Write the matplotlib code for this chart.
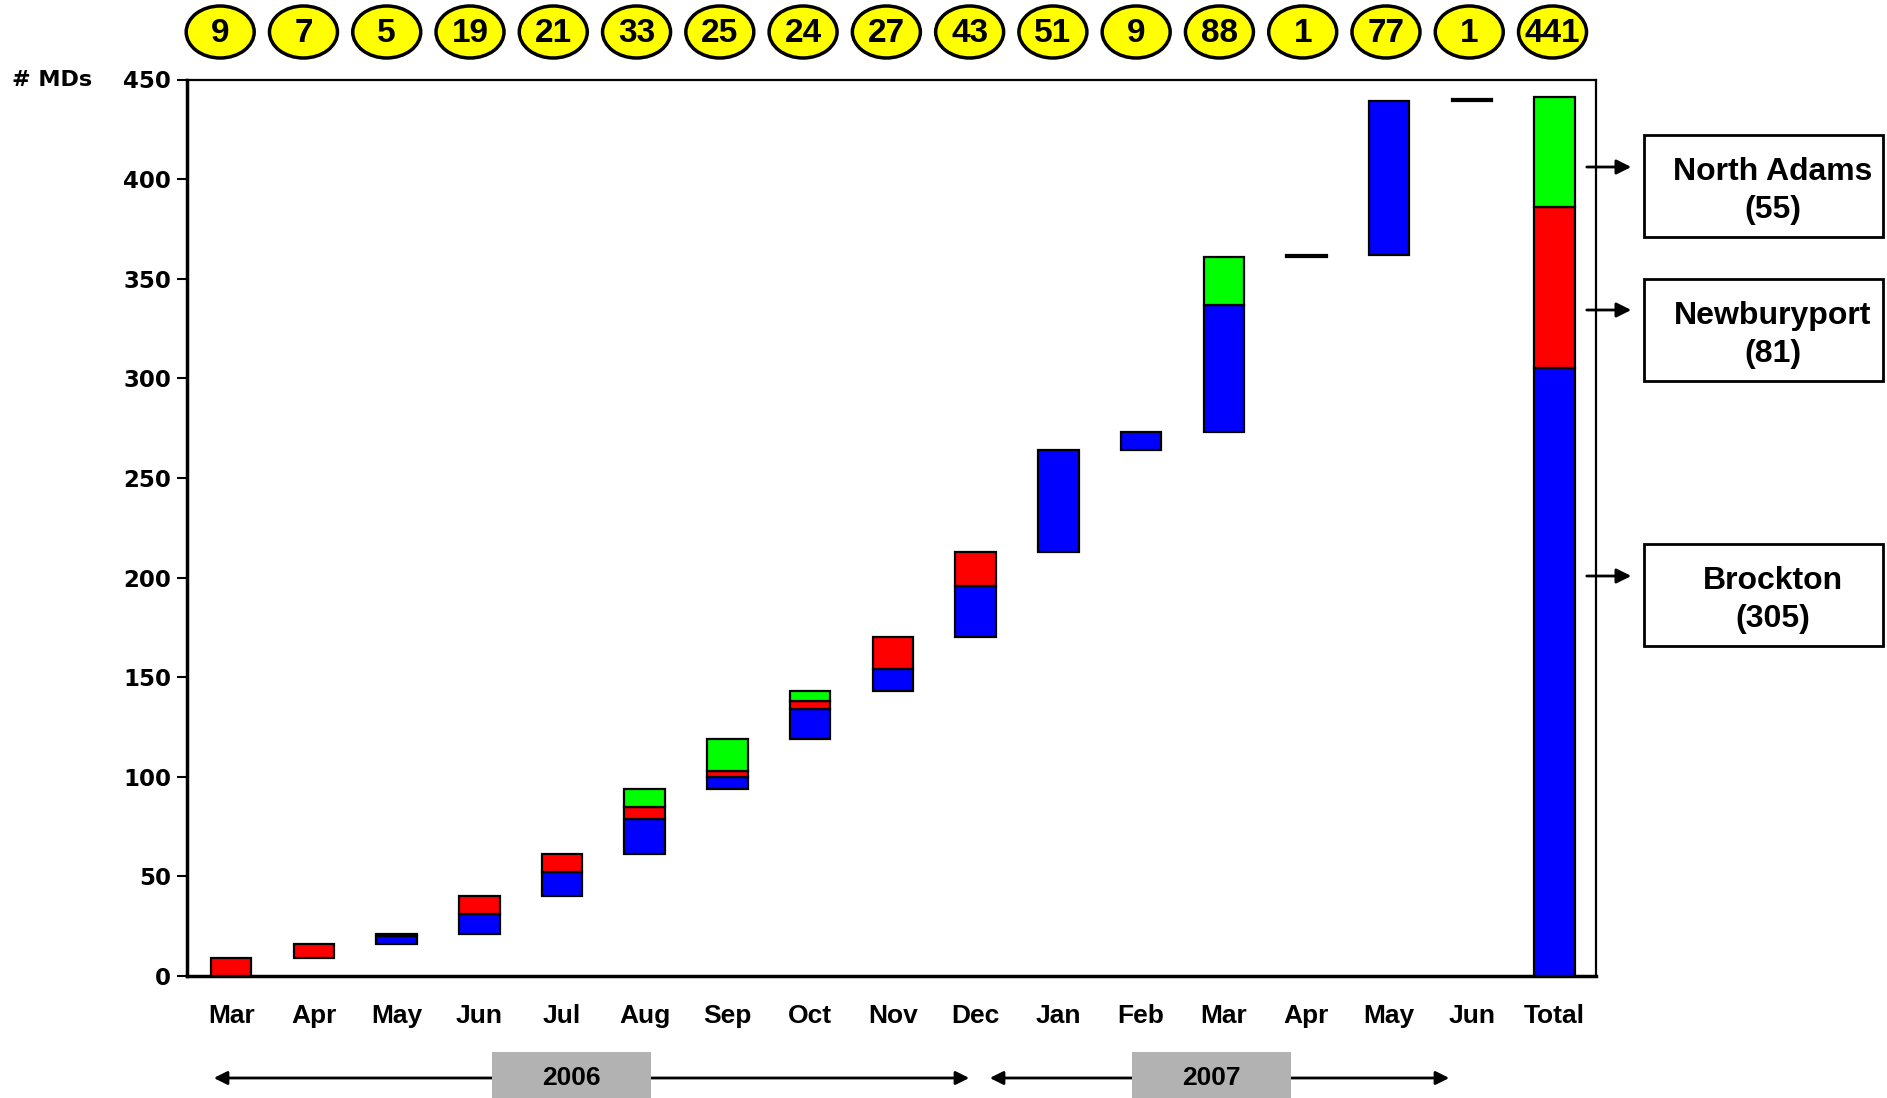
import numpy as np
import matplotlib
matplotlib.use("Agg")
import matplotlib.pyplot as plt
from matplotlib.patches import Ellipse, Rectangle, FancyArrowPatch

plt.rcParams['font.family'] = ['Liberation Sans', 'DejaVu Sans']
plt.rcParams['font.weight'] = 'bold'

# Monthly additions of MDs by site (Mar 2006 - Jun 2007)
months = ['Mar', 'Apr', 'May', 'Jun', 'Jul', 'Aug', 'Sep', 'Oct', 'Nov', 'Dec',
          'Jan', 'Feb', 'Mar', 'Apr', 'May', 'Jun']
brockton = [0, 0, 4, 10, 12, 18, 6, 15, 11, 26, 51, 9, 64, 1, 77, 1]
newburyport = [9, 7, 1, 9, 9, 6, 3, 4, 16, 17, 0, 0, 0, 0, 0, 0]
north_adams = [0, 0, 0, 0, 0, 9, 16, 5, 0, 0, 0, 0, 24, 0, 0, 0]

# Site totals shown in the final column
site_names = ['Brockton', 'Newburyport', 'North Adams']
site_totals = [305, 81, 55]
site_colors = ['#0000FF', '#FF0000', '#00FF00']

years = ['2006', '2007']
y_ticks = [0, 50, 100, 150, 200, 250, 300, 350, 400, 450]

W, H = 1887, 1098
fig = plt.figure(figsize=(W / 100, H / 100), dpi=100)
ax_l, ax_r, ax_t, ax_b = 186.5, 1596, 79.5, 976
ax = fig.add_axes([ax_l / W, 1 - ax_b / H, (ax_r - ax_l) / W, (ax_b - ax_t) / H])

n = len(months)
x = np.arange(n)
monthly = np.array(brockton) + np.array(newburyport) + np.array(north_adams)
base = np.concatenate([[0], np.cumsum(monthly)[:-1]])

bar_w = 0.49
edge = dict(edgecolor='black', linewidth=1.6)

bottom = base.astype(float)
for vals, col in zip([brockton, newburyport, north_adams], site_colors):
    vals = np.array(vals, dtype=float)
    mask = vals > 0
    ax.bar(x[mask], vals[mask], bottom=bottom[mask], width=bar_w, color=col, **edge, zorder=3)
    bottom = bottom + vals

# Total column
tot_x = n
b = 0
for val, col in zip(site_totals, site_colors):
    ax.bar(tot_x, val, bottom=b, width=bar_w, color=col, **edge, zorder=3)
    b += val

ax.set_xlim(-0.54, n + 0.5)
ax.set_ylim(0, 450)
ax.set_yticks(y_ticks)
ax.set_yticklabels([str(t) for t in y_ticks], fontfamily='DejaVu Sans',
                   fontweight='bold', fontsize=16.5)
ax.set_xticks(list(x) + [tot_x])
ax.set_xticklabels(months + ['Total'], fontsize=19, fontweight='bold')
ax.tick_params(axis='x', length=0, pad=20)
ax.tick_params(axis='y', length=7, width=1.5, pad=4, direction='out')
for s in ['left', 'bottom']:
    ax.spines[s].set_linewidth(2.5)
for s in ['top', 'right']:
    ax.spines[s].set_linewidth(1.6)

fig.text(12 / W, 1 - 80 / H, '# MDs', fontfamily='DejaVu Sans', fontweight='bold',
         fontsize=16, ha='left', va='center')

# Yellow count badges across the top
labels = list(monthly) + [sum(site_totals)]
cy = 1 - 32 / H
for i, lab in enumerate(labels):
    cx = (220.2 + i * 83.27) / W
    e = Ellipse((cx, cy), width=68 / W, height=52 / H, transform=fig.transFigure,
                facecolor='#FFFF00', edgecolor='black', linewidth=2.5, clip_on=False)
    fig.add_artist(e)
    fig.text(cx, cy - 2 / H, str(lab), fontsize=24, fontweight='bold',
             ha='center', va='center')

# Site callout boxes with arrows
boxes = [('North Adams', 55, 135, 237, 167),
         ('Newburyport', 81, 279, 381, 310),
         ('Brockton', 305, 544, 646, 576)]
for name, val, y0, y1, ya in boxes:
    r = Rectangle((1644 / W, 1 - y1 / H), (1883 - 1644) / W, (y1 - y0) / H,
                  transform=fig.transFigure, facecolor='white', edgecolor='black',
                  linewidth=2)
    fig.add_artist(r)
    fig.text(1773 / W, 1 - ((y0 + y1) / 2 + 5) / H, f'{name}\n({val})', fontsize=23,
             fontweight='bold', ha='center', va='center', linespacing=1.35)
    arr = FancyArrowPatch((1584 / W, 1 - ya / H), (1634 / W, 1 - ya / H),
                          transform=fig.transFigure, arrowstyle='-|>',
                          mutation_scale=22, linewidth=2, color='black')
    fig.add_artist(arr)

# Year spans below the month axis
ya = 1 - 1078 / H
spans = [(211, 972, 492, 651), (987, 1452, 1132, 1291)]
for (x0, x1, bx0, bx1), yr in zip(spans, years):
    arr = FancyArrowPatch((x0 / W, ya), (x1 / W, ya), transform=fig.transFigure,
                          arrowstyle='<|-|>', mutation_scale=20, linewidth=2,
                          color='black')
    fig.add_artist(arr)
    r = Rectangle((bx0 / W, 0), (bx1 - bx0) / W, 46 / H, transform=fig.transFigure,
                  facecolor='#B2B2B2', edgecolor='none', zorder=5)
    fig.add_artist(r)
    fig.text((bx0 + bx1) / 2 / W, ya, yr, fontsize=19, fontweight='bold',
             ha='center', va='center', zorder=6)

fig.savefig('out.png', dpi=100)
